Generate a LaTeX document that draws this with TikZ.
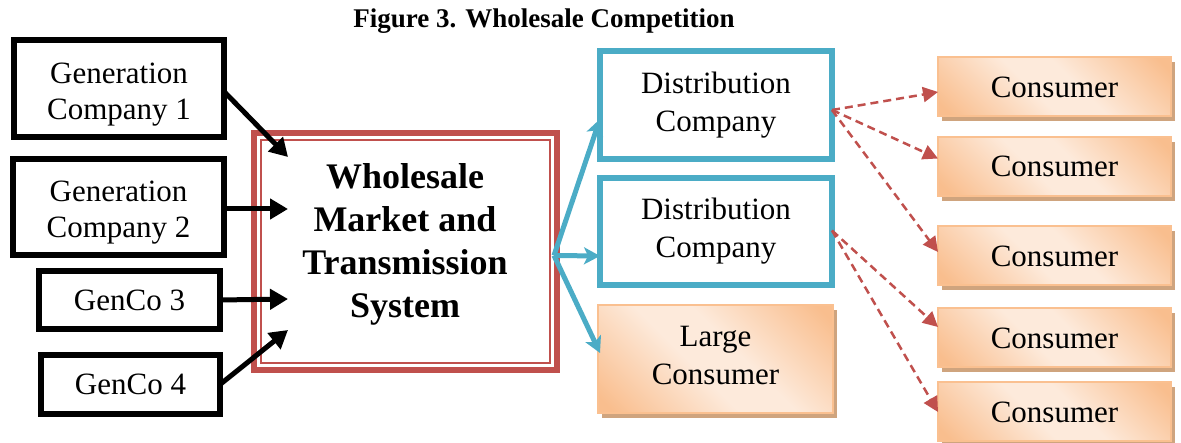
\documentclass[tikz,border=0pt]{standalone}
\usepackage{fontspec}
\setmainfont{Liberation Serif}
\usetikzlibrary{arrows.meta,calc,shadows}
\definecolor{bluec}{RGB}{75,172,198}
\definecolor{redc}{RGB}{192,80,77}
\definecolor{olight}{RGB}{253,234,219}
\definecolor{odark}{RGB}{249,190,142}
\definecolor{oborder}{RGB}{250,192,144}
\definecolor{shadowc}{RGB}{207,164,126}
\pgfdeclarehorizontalshading{orgshade}{100bp}{color(0bp)=(odark); color(18bp)=(odark); color(44bp)=(olight); color(56bp)=(olight); color(82bp)=(odark); color(100bp)=(odark)}
\tikzset{
  genbox/.style={draw=black, line width=6pt, fill=white, inner sep=0pt, outer sep=0pt, align=center, font=\fontsize{31}{36}\selectfont},
  distbox/.style={draw=bluec, line width=6pt, fill=white, inner sep=0pt, outer sep=0pt, align=center, font=\fontsize{31}{38}\selectfont},
  conbox/.style={draw=oborder, line width=2pt, shading=orgshade, shading angle=45, inner sep=0pt, outer sep=0pt, align=center, font=\fontsize{31}{38}\selectfont,
    drop shadow={shadow xshift=4pt, shadow yshift=-5pt, fill=shadowc, opacity=1}},
  blackarrow/.style={line width=5pt, -{Triangle[length=18pt,width=20pt]}},
  bluearrow/.style={draw=bluec, line width=5pt, -{Stealth[length=16pt,width=17pt,inset=4pt]}},
  redarrow/.style={draw=redc, line width=2.5pt, dash pattern=on 8pt off 5pt, -{Triangle[length=15pt,width=15pt]}}
}
\newcommand{\downstrut}{\rule{0pt}{32pt}}
\newcommand{\upstrut}{\rule[-8pt]{0pt}{8pt}}
\begin{document}
\begin{tikzpicture}[x=1pt,y=-1pt]
\useasboundingbox (0,0) rectangle (1181,443);
\node (title) at (544,21) {\fontsize{27}{32}\selectfont\bfseries Figure 3. Wholesale Competition};
% generation companies
\node[genbox, minimum width=210pt, minimum height=97pt] (g1) at (119,88.5) {\downstrut Generation\\Company 1};
\node[genbox, minimum width=211pt, minimum height=96pt] (g2) at (118.5,207) {\downstrut Generation\\Company 2};
\node[genbox, minimum width=181pt, minimum height=58pt] (g3) at (129.5,300) {GenCo 3};
\node[genbox, minimum width=179pt, minimum height=59pt] (g4) at (130.5,384.5) {GenCo 4};
% wholesale market
\node[draw=redc, line width=6pt, minimum width=303pt, minimum height=237pt, inner sep=0pt, outer sep=0pt] (wm) at (405.5,251.5) {};
\node[draw=redc, line width=1.5pt, minimum width=289pt, minimum height=223pt, inner sep=0pt] (wmin) at (wm.center) {};
\node[align=center, font=\fontsize{36}{43}\selectfont\bfseries] (wmtext) at (405,244) {Wholesale\\Market and\\Transmission\\System};
% distribution
\node[distbox, minimum width=232pt, minimum height=108pt] (d1) at (716,105) {Distribution\\Company};
\node[distbox, minimum width=232pt, minimum height=107pt] (d2) at (716,231.5) {Distribution\\Company};
\node[conbox, minimum width=235pt, minimum height=108pt] (lc) at (715.5,359) {Large\\Consumer\upstrut};
% consumers
\node[conbox, minimum width=233pt, minimum height=59pt] (c1) at (1054.5,87) {Consumer};
\node[conbox, minimum width=233pt, minimum height=59pt] (c2) at (1054.5,166.5) {Consumer};
\node[conbox, minimum width=233pt, minimum height=59pt] (c3) at (1054.5,256) {Consumer};
\node[conbox, minimum width=233pt, minimum height=59pt] (c4) at (1054.5,338) {Consumer};
\node[conbox, minimum width=233pt, minimum height=59pt] (c5) at (1054.5,412) {Consumer};
% black arrows
\draw[blackarrow] ($(g1.east)+(0,3)$) -- ($(wm.north west)+(34,24)$);
\draw[blackarrow] ($(g2.east)+(0,2)$) -- ($(wm.north west)+(34,76)$);
\draw[blackarrow] (g3.east) -- ($(wm.north west)+(34,166)$);
\draw[blackarrow] (g4.east) -- ($(wm.north west)+(34,197)$);
% blue arrows
\coordinate (bsrc) at ($(wm.east)+(-3,4)$);
\draw[bluearrow] (bsrc) -- ($(d1.south west)+(0,-40)$);
\draw[bluearrow] (bsrc) -- ($(d2.west)+(0,24.5)$);
\draw[bluearrow] (bsrc) -- ($(lc.west)+(2,-6)$);
% red dashed arrows
\draw[redarrow] ($(d1.east)+(0,5)$) -- ($(c1.west)+(0,5)$);
\draw[redarrow] ($(d1.east)+(0,5)$) -- ($(c2.west)+(0,-8)$);
\draw[redarrow] ($(d1.east)+(0,5)$) -- ($(c3.west)+(0,-4)$);
\draw[redarrow] ($(d2.east)+(0,-1)$) -- ($(c4.west)+(0,-11)$);
\draw[redarrow] ($(d2.east)+(0,-1)$) -- (c5.west);
\end{tikzpicture}
\end{document}
